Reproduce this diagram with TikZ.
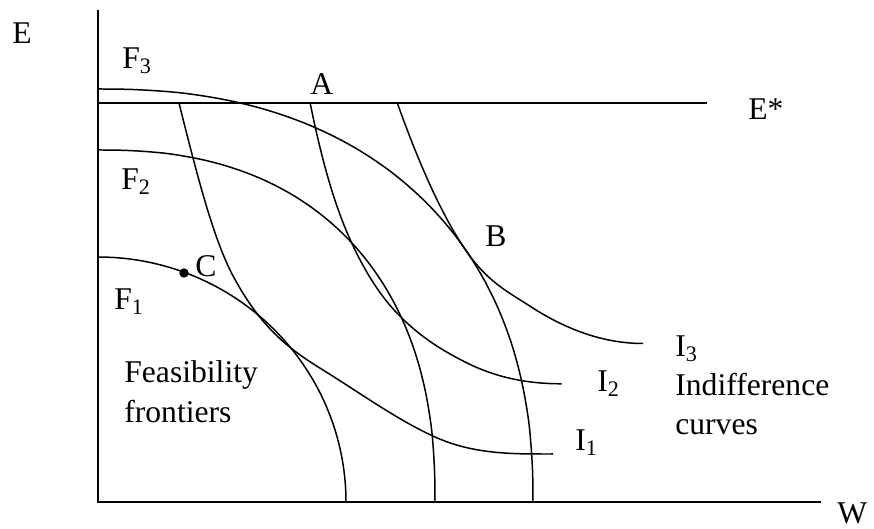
\documentclass[tikz,border=0pt]{standalone}
\usepackage{fontspec}
\setmainfont{Liberation Serif}
\usepackage{tikz}
\usetikzlibrary{positioning}
\tikzset{
  axisline/.style={line width=1.1pt},
  frontier/.style={line width=0.85pt},
  indiff/.style={line width=0.85pt},
  lbl/.style={inner sep=0pt, anchor=base west, font=\fontsize{18}{22}\selectfont},
  dot/.style={circle, fill=black, inner sep=1.9pt}
}

\begin{document}
\begin{tikzpicture}[x=0.2cm,y=0.2cm]
        \useasboundingbox (-9.8,-2.7) rectangle (77.6,50.2);
        % axes and target level
        \coordinate (O) at (0,0);
        \coordinate (Etop) at (0,49.2);
        \coordinate (Wend) at (72.3,0);
        \coordinate (Sl) at (0,39.9);
        \coordinate (Sr) at (60.9,39.9);
        \draw[axisline] (Etop) -- (O) -- (Wend);
        \draw[axisline] (Sl) -- (Sr);
        % feasibility frontiers
        \foreach \a/\b/\p in {24.8/24.5/2, 33.7/35.2/2.35, 43.5/41.3/2.3}
          \draw[frontier] plot[smooth, domain=0:90, samples=60, variable=\t]
            ({\a*max(cos(\t),0.00001)^(2/\p)}, {\b*max(sin(\t),0.00001)^(2/\p)});
        % indifference curves
        \draw[indiff] (8.1,39.9) .. controls (9.8,33.1) and (11.4,26.8) .. (13.3,23.0)
          .. controls (16.3,17.2) and (19.4,15.12) .. (22.5,13.2)
          .. controls (26.23,10.89) and (29.97,8.18) .. (33.7,6.5)
          .. controls (37.63,4.73) and (41.57,4.8) .. (45.5,4.8);
        \draw[indiff] (21.2,39.98) .. controls (22.87,31.65) and (24.53,27.39) .. (26.2,24.22)
          .. controls (27.42,21.9) and (28.65,20.2) .. (29.87,18.92)
          .. controls (32.2,16.47) and (34.54,15.09) .. (36.87,13.92)
          .. controls (40.04,12.34) and (43.2,11.82) .. (46.37,11.82);
        \draw[indiff] (29.9,39.98) .. controls (32.33,33.17) and (34.77,27.86) .. (37.2,24.58)
          .. controls (39.2,21.88) and (41.2,20.88) .. (43.2,19.58)
          .. controls (46.97,17.13) and (50.73,15.85) .. (54.5,15.85);
        \node[dot] (cpt) at (8.6,22.9) {};
        % labels
        \node[lbl] (lE) at (-8.6,45.85) {E};
        \node[lbl] (lW) at (73.9,-2.15) {W};
        \node[lbl] (lEs) at (65.0,38.25) {E*};
        \node[lbl] (lF3) at (2.4,43.35) {F\textsubscript{3}};
        \node[lbl] (lF2) at (2.3,31.25) {F\textsubscript{2}};
        \node[lbl] (lF1) at (1.6,19.25) {F\textsubscript{1}};
        \node[lbl] (lA) at (21.2,40.7) {A};
        \node[lbl] (lB) at (38.7,25.55) {B};
        \node[lbl] (lC) at (9.7,22.55) {C};
        \node[lbl] (feas) at (2.6,11.95) {Feasibility};
        \node[lbl] (front) at (2.6,7.95) {frontiers};
        \node[lbl] (lI3) at (57.7,14.55) {I\textsubscript{3}};
        \node[lbl] (indf) at (57.7,10.65) {Indifference};
        \node[lbl] (crv) at (57.7,6.75) {curves};
        \node[lbl] (lI2) at (49.9,11.05) {I\textsubscript{2}};
        \node[lbl] (lI1) at (47.7,5.15) {I\textsubscript{1}};
      \end{tikzpicture}
\end{document}
